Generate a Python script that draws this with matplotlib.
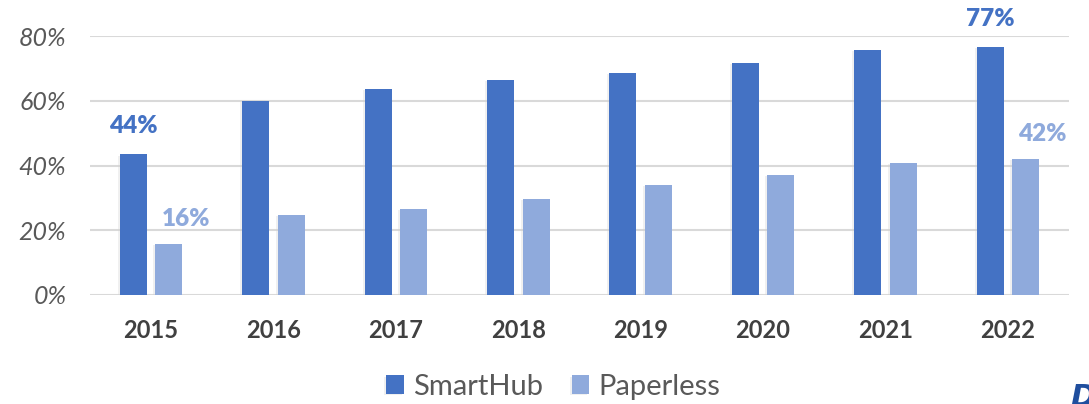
import matplotlib
matplotlib.use("Agg")
import matplotlib.pyplot as plt
import matplotlib.patheffects as pe
import numpy as np

years = ["2015", "2016", "2017", "2018", "2019", "2020", "2021", "2022"]
smarthub = [0.435, 0.60, 0.636, 0.664, 0.686, 0.717, 0.757, 0.767]
paperless = [0.158, 0.247, 0.266, 0.297, 0.340, 0.371, 0.408, 0.420]
smarthub_labels = {0: "44%", 7: "77%"}
paperless_labels = {0: "16%", 7: "42%"}

dark_blue = "#4472C4"
light_blue = "#8FAADC"
font = "Lato"

fig = plt.figure(figsize=(10.89, 4.04), dpi=100)
ax = fig.add_axes([90 / 1089, 109 / 404, 979 / 1089, 259 / 404])

x = np.arange(len(years))
w = 0.22
off = 0.145
shadow = [pe.SimplePatchShadow(offset=(-1.5, -1), shadow_rgbFace="#d0d0d0", alpha=0.3), pe.Normal()]
b1 = ax.bar(x - off, smarthub, w, color=dark_blue, zorder=3, path_effects=shadow)
b2 = ax.bar(x + off, paperless, w, color=light_blue, zorder=3, path_effects=shadow)

for i, t in smarthub_labels.items():
    ax.annotate(t, (x[i] - off, smarthub[i]), xytext=(0, 20), textcoords="offset points",
                ha="center", va="center", fontsize=17.5, fontweight="heavy", color=dark_blue,
                family=font, annotation_clip=False)
for i, t in paperless_labels.items():
    ax.annotate(t, (x[i] + off, paperless[i]), xytext=(12, 18), textcoords="offset points",
                ha="center", va="center", fontsize=17.5, fontweight="heavy", color=light_blue,
                family=font, annotation_clip=False)

ax.set_xlim(-0.5, len(years) - 0.5)
ax.set_ylim(0, 0.8)
ax.set_yticks([0, 0.2, 0.4, 0.6, 0.8])
ax.set_yticklabels(["0%", "20%", "40%", "60%", "80%"], fontsize=18, style="italic",
                   color="#595959", family=font)
ax.set_xticks(x)
ax.set_xticklabels(years, fontsize=17, fontweight="bold", color="#404040", family=font)
ax.tick_params(axis="both", length=0)
ax.tick_params(axis="x", pad=17)
ax.tick_params(axis="y", pad=17)
ax.grid(axis="y", color="#d9d9d9", linewidth=1.5, zorder=0)
for s in ax.spines.values():
    s.set_visible(False)

leg = fig.legend([b1, b2], ["SmartHub", "Paperless"], loc="center", bbox_to_anchor=(0.508, 17 / 404),
                 ncol=2, frameon=False, prop={"family": font, "size": 21}, handlelength=0.6,
                 handleheight=0.6, columnspacing=1.0, handletextpad=0.3)
for t in leg.get_texts():
    t.set_color("#595959")

# partial logo in bottom-right corner
fig.text(1070 / 1089, -8 / 404, "D", fontsize=22, fontweight="bold", style="italic",
         color="#1F4E9E", family="DejaVu Sans", ha="left", va="bottom")

fig.savefig("out.png", dpi=100)
